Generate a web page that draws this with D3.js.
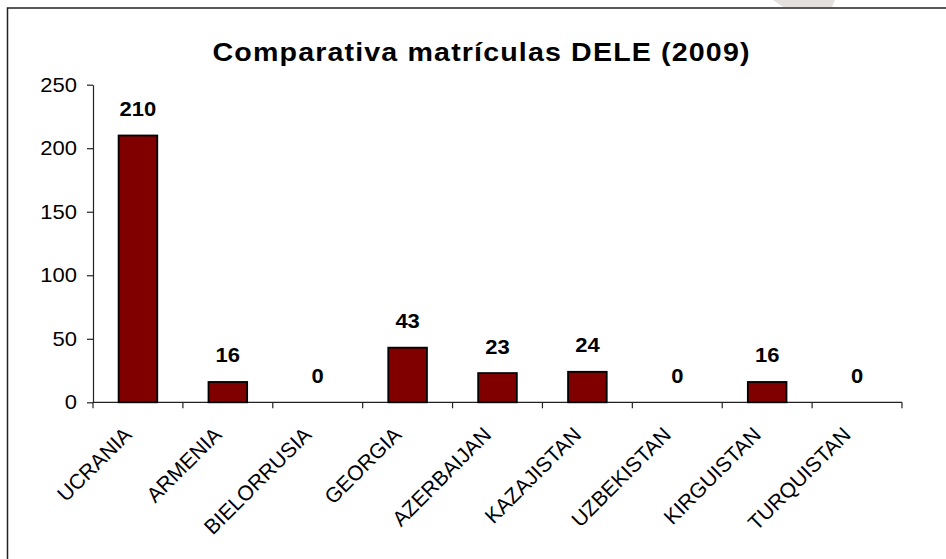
<!DOCTYPE html>
<html>
<head>
<meta charset="utf-8">
<script src="https://cdn.jsdelivr.net/npm/d3@7"></script>
<style>
  body { margin: 0; background: #fff; }
  svg { display: block; }
  text { font-family: "Liberation Sans", Arial, sans-serif; fill: #000; }
</style>
</head>
<body>
<svg id="chart" width="946" height="559"></svg>
<script>
// data
const countries = ["UCRANIA", "ARMENIA", "BIELORRUSIA", "GEORGIA", "AZERBAIJAN", "KAZAJISTAN", "UZBEKISTAN", "KIRGUISTAN", "TURQUISTAN"];
const enrolments = [210, 16, 0, 43, 23, 24, 0, 16, 0];
const yTicks = [0, 50, 100, 150, 200, 250];
const chartTitle = "Comparativa matrículas DELE (2009)";

const svg = d3.select("#chart");
const stretch = 1.1; // the original picture is a bit wider than tall

// outer frame (right and bottom edges fall outside the picture)
svg.append("rect")
  .attr("x", 7.5).attr("y", 8)
  .attr("width", 1000).attr("height", 1000)
  .attr("fill", "none")
  .attr("stroke", "#222")
  .attr("stroke-width", 1.5);

// faint watermark at the top edge
svg.append("polygon")
  .attr("points", "773,0 835,0 832,7 783,7")
  .attr("fill", "#e4e0dd");

// scales
const x = d3.scaleBand().domain(countries).range([93, 902]).padding(0);
const y = d3.scaleLinear().domain([0, 250]).range([402.3, 84.7]);
const barW = x.bandwidth() * 0.43;

// title
svg.append("text")
  .attr("transform", `translate(481,61) scale(${stretch},1)`)
  .attr("text-anchor", "middle")
  .attr("font-size", 26)
  .attr("font-weight", "bold")
  .attr("textLength", 537 / stretch)
  .attr("lengthAdjust", "spacing")
  .text(chartTitle);

// y axis
const yAxis = svg.append("g")
  .attr("transform", "translate(93,0)")
  .call(d3.axisLeft(y).tickValues(yTicks).tickSize(6).tickSizeOuter(0).tickPadding(10));
yAxis.selectAll("path, line").attr("stroke", "#222").attr("stroke-width", 1.2);
yAxis.selectAll("text")
  .attr("x", -16 / stretch)
  .attr("transform", `scale(${stretch},1)`)
  .attr("font-size", 20)
  .attr("font-family", "Liberation Sans, Arial, sans-serif")
  .attr("fill", "#000");

// x axis line + ticks at category boundaries
const bounds = countries.map(c => x(c)).concat([x.range()[1]]);
const xAxis = svg.append("g");
xAxis.append("line")
  .attr("x1", x.range()[0]).attr("x2", x.range()[1])
  .attr("y1", y(0)).attr("y2", y(0))
  .attr("stroke", "#222").attr("stroke-width", 1.2);
xAxis.selectAll(".tick")
  .data(bounds)
  .join("line")
  .attr("class", "tick")
  .attr("x1", d => d).attr("x2", d => d)
  .attr("y1", y(0)).attr("y2", y(0) + 6)
  .attr("stroke", "#222").attr("stroke-width", 1.2);

// bars
svg.append("g").selectAll("rect")
  .data(countries)
  .join("rect")
  .attr("x", c => x(c) + (x.bandwidth() - barW) / 2)
  .attr("y", (c, i) => y(enrolments[i]))
  .attr("width", barW)
  .attr("height", (c, i) => y(0) - y(enrolments[i]))
  .attr("fill", "#800000")
  .attr("stroke", "#000")
  .attr("stroke-width", 1.8);

// value labels
svg.append("g").selectAll("text")
  .data(countries)
  .join("text")
  .attr("transform", (c, i) => `translate(${x(c) + x.bandwidth() / 2},${y(enrolments[i]) - 19.5}) scale(${stretch},1)`)
  .attr("text-anchor", "middle")
  .attr("font-size", 20)
  .attr("font-weight", "bold")
  .text((c, i) => enrolments[i]);

// rotated category labels
svg.append("g").selectAll("text")
  .data(countries)
  .join("text")
  .attr("transform", c => `translate(${x(c) + x.bandwidth() / 2 - 5},436) rotate(-45)`)
  .attr("text-anchor", "end")
  .attr("font-size", 21)
  .text(c => c);
</script>
</body>
</html>
